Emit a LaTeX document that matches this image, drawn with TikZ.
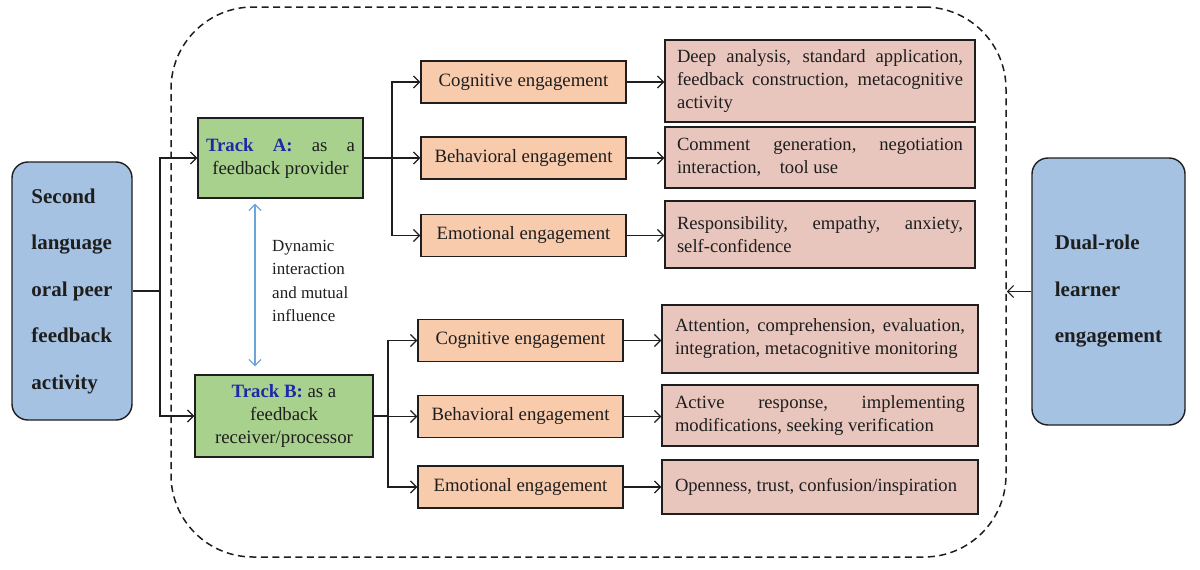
\documentclass[tikz,border=0pt]{standalone}
\usepackage{fontspec}
\setmainfont{Liberation Serif}
\usetikzlibrary{arrows.meta,calc}
\hyphenpenalty=10000
\exhyphenpenalty=10000
\definecolor{sideblue}{RGB}{166,194,226}
\definecolor{trackgreen}{RGB}{169,209,142}
\definecolor{engorange}{RGB}{248,203,173}
\definecolor{detpink}{RGB}{232,198,189}
\definecolor{trackblue}{RGB}{30,40,170}
\definecolor{linkblue}{RGB}{110,165,215}
\definecolor{ink}{RGB}{30,30,30}
\tikzset{
  box/.style={draw=ink, line width=1.4pt, inner sep=0pt, text=ink},
  sidebox/.style={box, fill=sideblue, rounded corners=16pt, align=left,
     font=\bfseries\fontsize{21}{46.5}\selectfont},
  trackbox/.style={box, fill=trackgreen, align=center, font=\fontsize{18.8}{23}\selectfont},
  engbox/.style={box, fill=engorange, minimum width=205pt, minimum height=42pt,
     font=\fontsize{18.8}{23}\selectfont},
  detbox/.style={box, fill=detpink, align=justify, font=\fontsize{18.6}{23}\selectfont},
  line/.style={draw=ink, line width=1.2pt},
  arr/.style={line, -{Straight Barb[length=6pt,width=12pt,line width=1.2pt]}},
  darr/.style={draw=linkblue, line width=1.3pt,
     {Straight Barb[length=6pt,width=12pt,line width=1.2pt]}-{Straight Barb[length=6pt,width=12pt,line width=1.2pt]}},
  frame/.style={draw=ink, line width=1.5pt, dash pattern=on 7pt off 4.5pt, rounded corners=82pt,
     minimum width=835pt, minimum height=550pt, inner sep=0pt}
}
\begin{document}
\begin{tikzpicture}[x=1pt,y=-1pt]
\useasboundingbox (0,0) rectangle (1200,570);
\node[frame] (F) at (588.5,282) {};
% side boxes
\node[sidebox, minimum width=120pt, minimum height=258pt] (L) at (72,291)
  {Second\\language\\oral peer\\feedback\\activity};
\node[sidebox, minimum width=153pt, minimum height=267pt] (R) at (1108.5,291.5)
  {Dual-role\\learner\\engagement};
% tracks
\node[trackbox, minimum width=165pt, minimum height=80pt] (TA) at (280.5,158)
  {\hbox to 149pt{\textcolor{trackblue}{\bfseries Track}\hfill\textcolor{trackblue}{\bfseries A:}\hfill as\hfill a}\\feedback provider};
\node[trackbox, minimum width=178pt, minimum height=82pt] (TB) at (284,416)
  {\textcolor{trackblue}{\bfseries Track B:} as a\\feedback\\receiver/processor};
\node[text=ink, align=left, anchor=west, inner sep=0pt, font=\fontsize{17}{23.5}\selectfont] (DI) at (272,281)
  {Dynamic\\interaction\\and mutual\\influence};
\draw[darr] ([shift={(-25.5,5)}]TA.south) -- ([shift={(-29,-8)}]TB.north);
% engagement boxes
\node[engbox] (C1) at (523.5,82) {Cognitive engagement};
\node[engbox] (B1) at (523.5,158) {Behavioral engagement};
\node[engbox] (E1) at (523.5,235.5) {Emotional engagement};
\node[engbox] (C2) at (520.5,340.5) {Cognitive engagement};
\node[engbox] (B2) at (520.5,416.5) {Behavioral engagement};
\node[engbox] (E2) at (520.5,487) {Emotional engagement};
% detail boxes
\node[detbox, minimum width=310pt, minimum height=82pt, text width=286pt] (D1) at (820,81)
  {Deep analysis, standard application,\linebreak feedback construction, metacognitive\linebreak activity};
\node[detbox, minimum width=310pt, minimum height=61pt, text width=286pt] (D2) at (820,157.5)
  {Comment\hfill generation,\hfill negotiation\\interaction,\quad tool use};
\node[detbox, minimum width=310pt, minimum height=67pt, text width=286pt] (D3) at (820,234.5)
  {Responsibility,\hfill empathy,\hfill anxiety,\\self-confidence};
\node[detbox, minimum width=316pt, minimum height=68pt, text width=290pt] (D4) at (820,339)
  {Attention, comprehension, evaluation,\linebreak integration, metacognitive monitoring};
\node[detbox, minimum width=316pt, minimum height=61pt, text width=290pt] (D5) at (820,415.5)
  {Active\hfill response,\hfill implementing\\modifications, seeking verification};
\node[detbox, minimum width=316pt, minimum height=54pt, text width=290pt] (D6) at (820,487)
  {Openness, trust, confusion/inspiration};
% connectors
\coordinate (s0) at (160,291);
\draw[line] (L.east) -- (s0);
\draw[arr] (s0) |- (TA.west);
\draw[arr] (s0) |- (TB.west);
\coordinate (s1) at (392,158);
\draw[line] (TA.east) -- (s1);
\draw[arr] (s1) |- (C1.west);
\draw[arr] (s1) |- (B1.west);
\draw[arr] (s1) |- (E1.west);
\coordinate (s2) at (388,416);
\draw[line] (TB.east) -- (s2);
\draw[arr] (s2) |- (C2.west);
\draw[arr] (s2) |- (B2.west);
\draw[arr] (s2) |- (E2.west);
\draw[arr] (C1.east) -- (C1.east -| D1.west);
\draw[arr] (B1.east) -- (B1.east -| D2.west);
\draw[arr] (E1.east) -- (E1.east -| D3.west);
\draw[arr] (C2.east) -- (C2.east -| D4.west);
\draw[arr] (B2.east) -- (B2.east -| D5.west);
\draw[arr] (E2.east) -- (E2.east -| D6.west);
\draw[arr] (R.west) -- (R.west -| F.east);
\end{tikzpicture}
\end{document}
